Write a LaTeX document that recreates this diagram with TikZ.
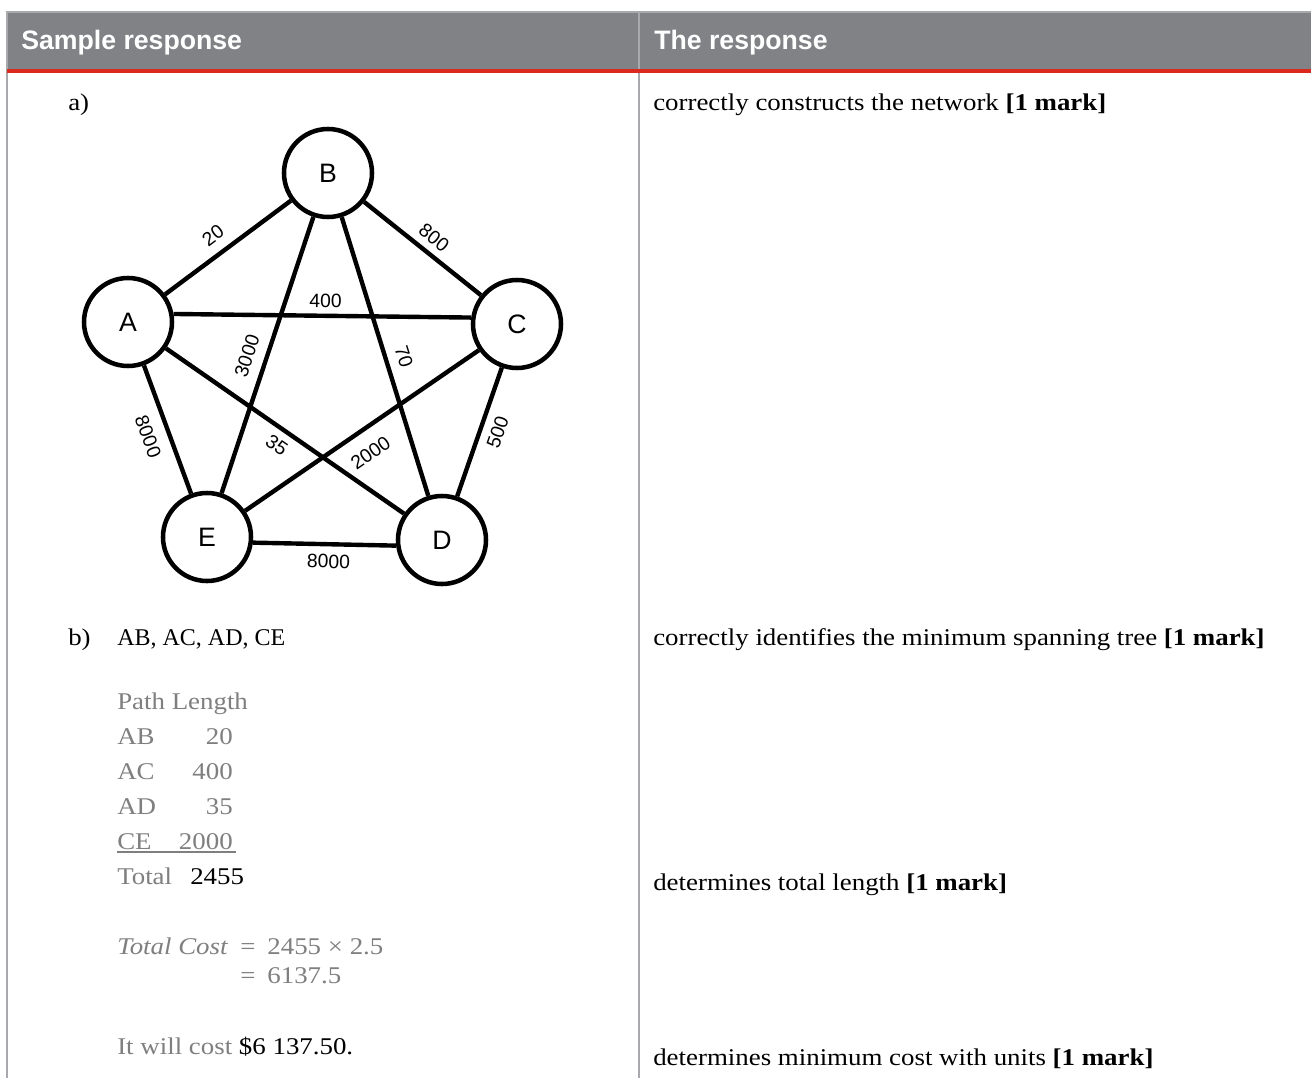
\documentclass[tikz,border=0pt]{standalone}
\usepackage{fontspec}
\setmainfont[FakeStretch=1.12]{Liberation Serif}
\newfontfamily\arialfont{Liberation Sans}
\newfontfamily\plainserif{Liberation Serif}
\usepackage{xcolor}
\usepackage{tikz}
\definecolor{hdrgrey}{HTML}{808285}
\definecolor{rulegrey}{HTML}{A7A9AC}
\definecolor{hdrred}{HTML}{DA291C}
\definecolor{txtgrey}{HTML}{7F7F7F}

\begin{document}
\begin{tikzpicture}[x=0.75pt, y=-0.75pt,
  vtx/.style={circle, draw=black, line width=3.4pt, fill=white, minimum size=66pt,
    inner sep=0pt, font=\arialfont\fontsize{20}{22}\selectfont},
  edge/.style={line width=3.3pt, draw=black},
  wt/.style={sloped, inner sep=0pt, font=\arialfont\fontsize{14.5}{16}\selectfont},
  hdr/.style={anchor=base west, inner sep=0pt, text=white,
    font=\arialfont\bfseries\fontsize{20}{24}\selectfont},
  body/.style={anchor=base west, inner sep=0pt, font=\fontsize{18}{21}\selectfont},
  grey/.style={body, text=txtgrey},
  num/.style={grey, anchor=base east}
]
  \useasboundingbox (0,0) rectangle (1311,1078);
  \fill[white] (0,0) rectangle (1311,1078);

  % table frame
  \fill[hdrgrey] (7,13) rectangle (1311,69);
  \fill[rulegrey] (6,11) rectangle (1311,13);
  \draw[rulegrey, line width=1.5pt] (7,11) -- (7,1078);
  \draw[rulegrey, line width=1pt] (639,13) -- (639,1078);
  \fill[hdrred] (7,69) rectangle (1311,73);

  \node[hdr] (hleft)  at (21,49)  {Sample response};
  \node[hdr] (hright) at (654,49) {The response};

  % part a
  \node[body] (parta) at (68,110)  {a)};
  \node[body] (mark1) at (653,110) {correctly constructs the network \textbf{[1 mark]}};

  \node[vtx] (B) at (328,173) {B};
  \node[vtx] (A) at (128,322) {A};
  \node[vtx] (C) at (517,324) {C};
  \node[vtx] (E) at (207,537) {E};
  \node[vtx] (D) at (442,540) {D};

  \draw[edge] (A) -- node[wt, above=7.3pt, pos=.47] {20} (B);
  \draw[edge] (B) -- node[wt, above=5pt, pos=.515] {800} (C);
  \draw[edge] (A.10) -- node[wt, above=4.4pt, pos=.51] {400} (C.172);
  \draw[edge] (B) -- node[wt, above=7.6pt, pos=.525] {3000} (E);
  \draw[edge] (B) -- node[wt, above=6.8pt, pos=.52] {70} (D);
  \draw[edge] (A) -- node[wt, below=8.7pt, pos=.50] {8000} (E);
  \draw[edge] (A) -- node[wt, below=5.5pt, pos=.505] {35} (D);
  \draw[edge] (E) -- node[wt, below=10.7pt, pos=.48] {2000} (C);
  \draw[edge] (C) -- node[wt, below=6.2pt, pos=.46] {500} (D);
  \draw[edge] (E.-7) -- node[wt, below=6.2pt, pos=.53] {8000} (D.187);

  % part b
  \node[body] (partb) at (68,645)  {b)};
  \node[body] (mst)   at (117,645) {\plainserif AB, AC, AD, CE};
  \node[body] (mark2) at (653,645) {correctly identifies the minimum spanning tree \textbf{[1 mark]}};

  \node[grey] (thead) at (117,709) {Path Length};
  \foreach \p/\l/\y in {AB/20/744, AC/400/779, AD/35/814, CE/2000/849} {
    \node[grey] (p\p) at (117,\y) {\p};
    \node[num]  (l\p) at (233,\y) {\l};
  }
  \draw[txtgrey, line width=1pt] (117,852) -- (236,852);
  \node[grey] (ttot)  at (117,884) {Total};
  \node[body] (tval)  at (190,884) {2455};
  \node[body] (mark3) at (653,890) {determines total length \textbf{[1 mark]}};

  \node[grey] (cost1) at (117,954) {\itshape Total Cost};
  \node[grey] (eq1)   at (240,954) {=\enspace 2455 × 2.5};
  \node[grey] (eq2)   at (240,983) {=\enspace 6137.5};

  \node[grey] (say)   at (117,1054) {It will cost \textcolor{black}{\$6 137.50.}};
  \node[body] (mark4) at (653,1065) {determines minimum cost with units \textbf{[1 mark]}};
\end{tikzpicture}
\end{document}
